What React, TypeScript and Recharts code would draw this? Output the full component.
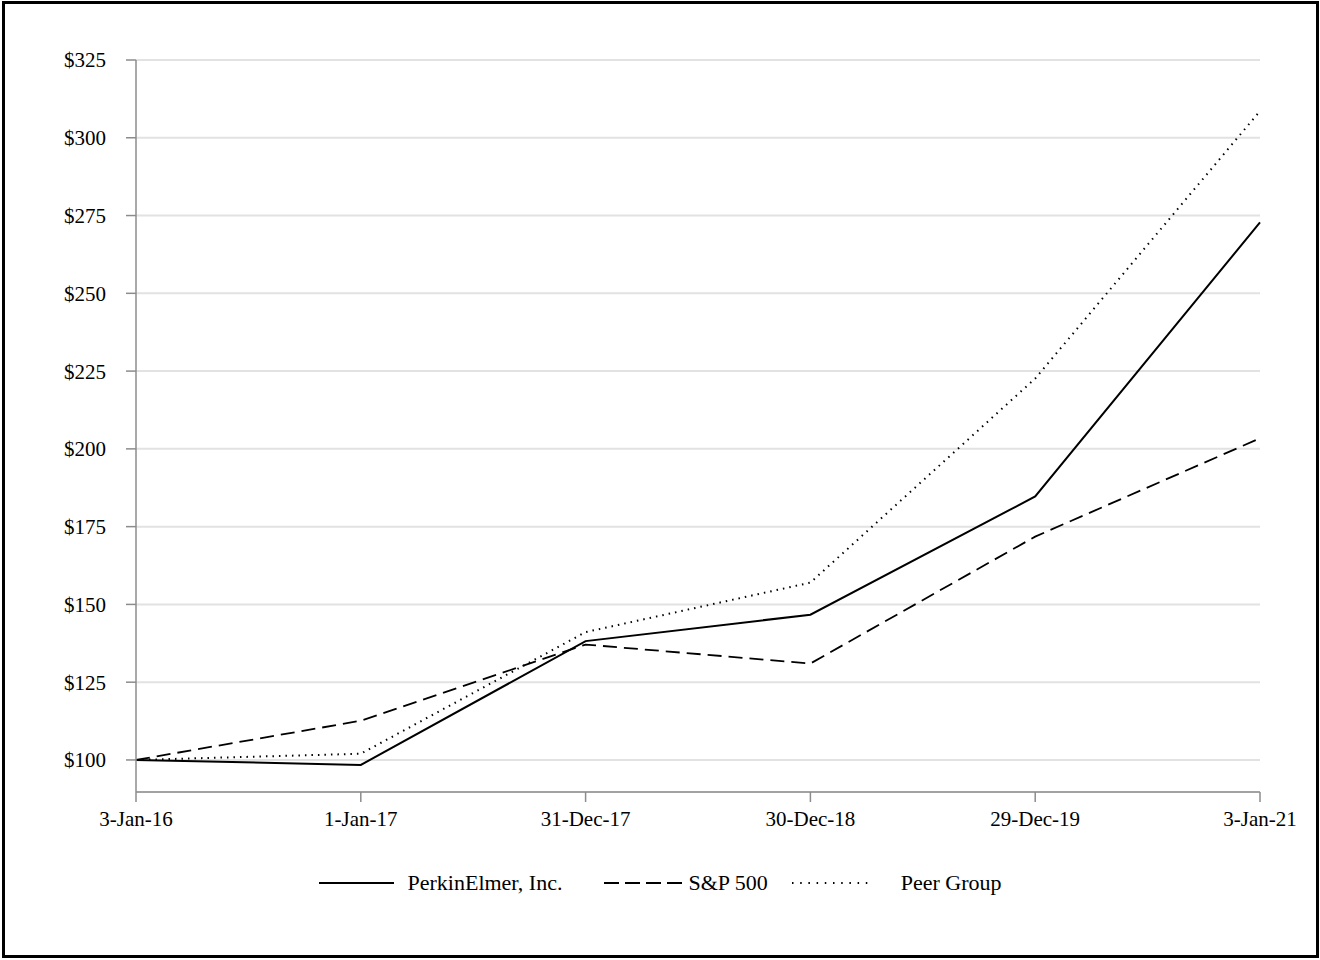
import { LineChart, Line, XAxis, YAxis, CartesianGrid, Legend } from 'recharts';

const dates = ['3-Jan-16', '1-Jan-17', '31-Dec-17', '30-Dec-18', '29-Dec-19', '3-Jan-21'];
const perkinElmer = [100, 98.4, 138.2, 146.7, 184.7, 272.8];
const sp500 = [100, 112.6, 137.1, 131.0, 171.8, 203.4];
const peerGroup = [100, 102.0, 141.1, 157.0, 222.6, 308.6];
const yTicks = [100, 125, 150, 175, 200, 225, 250, 275, 300, 325];

const data = dates.map((d, i) => ({
    date: d,
    perkin: perkinElmer[i],
    sp: sp500[i],
    peer: peerGroup[i],
}));

const FONT = '"Liberation Serif", "DejaVu Serif", serif';

const legendItems = [
    { label: 'PerkinElmer, Inc.', dash: undefined, lineW: 75, gap: 14, after: 42 },
    { label: 'S&P 500', dash: '15 6', lineW: 78, gap: 6, after: 24 },
    { label: 'Peer Group', dash: '1.5 6.7', lineW: 82, gap: 27, after: 0 },
];

const ChartLegend = () => (
    <div style={{ display: 'flex', justifyContent: 'center', alignItems: 'center', fontFamily: FONT, fontSize: 22, color: '#000' }}>
        {legendItems.map((item) => (
            <div key={item.label} style={{ display: 'flex', alignItems: 'center', marginRight: item.after }}>
                <svg width={item.lineW} height={10} style={{ marginRight: item.gap }}>
                    <line x1={0} y1={5} x2={item.lineW} y2={5} stroke="#000" strokeWidth={2} strokeDasharray={item.dash} />
                </svg>
                <span>{item.label}</span>
            </div>
        ))}
    </div>
);

export default function App() {
    return (
        <div style={{ position: 'relative', width: 1320, height: 960, background: '#fff' }}>
            <style>{`body { margin: 0; }`}</style>
            <div style={{ position: 'absolute', left: 2, top: 1, width: 1317, height: 957, border: '3px solid #000', boxSizing: 'border-box' }} />
            <LineChart width={1320} height={960} data={data} margin={{ top: 60, right: 60, left: 56, bottom: 138 }}>
                <CartesianGrid vertical={false} stroke="#e2e2e2" strokeWidth={2} />
                <XAxis
                    dataKey="date"
                    interval={0}
                    height={30}
                    tickSize={10}
                    tickMargin={9}
                    stroke="#8c8c8c"
                    strokeWidth={1.5}
                    tick={{ fontFamily: FONT, fontSize: 21, fill: '#000' }}
                />
                <YAxis
                    type="number"
                    domain={[89.7, 325]}
                    ticks={yTicks}
                    width={80}
                    tickSize={10}
                    tickMargin={20}
                    stroke="#8c8c8c"
                    strokeWidth={1.5}
                    tickFormatter={(v: number) => `$${v}`}
                    tick={{ fontFamily: FONT, fontSize: 21, fill: '#000' }}
                />
                <Legend
                    layout="horizontal"
                    verticalAlign="middle"
                    align="center"
                    wrapperStyle={{ top: 870, left: 0, width: 1320 }}
                    content={<ChartLegend />}
                />
                <Line dataKey="perkin" stroke="#000" strokeWidth={2} dot={false} isAnimationActive={false} />
                <Line dataKey="sp" stroke="#000" strokeWidth={1.8} strokeDasharray="14 7" dot={false} isAnimationActive={false} />
                <Line dataKey="peer" stroke="#000" strokeWidth={2} strokeDasharray="1.5 5" dot={false} isAnimationActive={false} />
            </LineChart>
        </div>
    );
}
